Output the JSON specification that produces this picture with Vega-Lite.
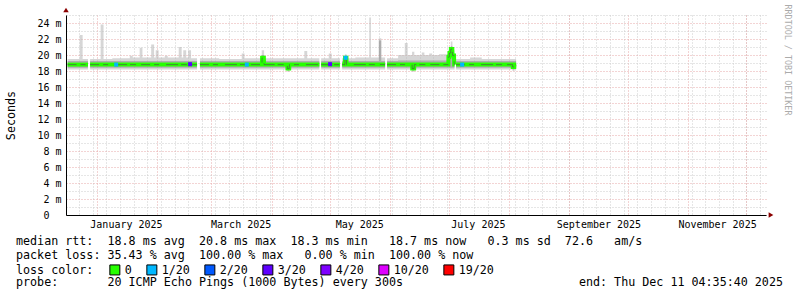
{
  "$schema": "https://vega.github.io/schema/vega-lite/v6.json",
  "width": 700,
  "height": 200,
  "autosize": {"type": "none"},
  "padding": {"left": 66, "top": 15, "right": 31, "bottom": 82},
  "background": "white",
  "config": {
    "font": "DejaVu Sans Mono",
    "view": {"stroke": null},
    "axis": {"labelFont": "DejaVu Sans Mono", "titleFont": "DejaVu Sans Mono"}
  },
  "title": {
    "text": [
      "median rtt:\u00a0\u00a018.8 ms avg\u00a0\u00a020.8 ms max\u00a0\u00a018.3 ms min\u00a0\u00a0\u00a018.7 ms now\u00a0\u00a0\u00a00.3 ms sd\u00a0\u00a072.6\u00a0\u00a0\u00a0am/s",
      "packet loss: 35.43 % avg\u00a0\u00a0100.00 % max\u00a0\u00a0\u00a00.00 % min\u00a0\u00a0100.00 % now",
      "\u200b",
      "probe:\u00a0\u00a0\u00a0\u00a0\u00a0\u00a0\u00a020 ICMP Echo Pings (1000 Bytes) every 300s\u00a0\u00a0\u00a0\u00a0\u00a0\u00a0\u00a0\u00a0\u00a0\u00a0\u00a0\u00a0\u00a0\u00a0\u00a0\u00a0\u00a0\u00a0\u00a0\u00a0\u00a0\u00a0\u00a0\u00a0\u00a0end: Thu Dec 11 04:35:40 2025"
    ],
    "orient": "bottom",
    "anchor": "start",
    "frame": "group",
    "dx": -50,
    "offset": -41,
    "font": "DejaVu Sans Mono",
    "fontSize": 11.7,
    "fontWeight": "normal",
    "color": "black",
    "lineHeight": 13.8,
    "baseline": "top"
  },
  "datasets": {
    "smoke": [
      {"t": "2024-12-17T00:00", "s": 1, "lo": 18.2, "ilo": 18.4, "ihi": 19.25, "hi": 19.5},
      {"t": "2024-12-23T06:00", "s": 1, "lo": 18.2, "ilo": 18.4, "ihi": 19.25, "hi": 22.5},
      {"t": "2024-12-24T18:00", "s": 1, "lo": 18.2, "ilo": 18.4, "ihi": 19.25, "hi": 19.5},
      {"t": "2024-12-27T12:00", "s": 1, "lo": 18.2, "ilo": 18.4, "ihi": 19.25, "hi": 19.5},
      {"t": "2024-12-28T14:00", "s": 2, "lo": 18.2, "ilo": 18.4, "ihi": 19.25, "hi": 19.5},
      {"t": "2025-01-03T00:00", "s": 2, "lo": 18.2, "ilo": 18.4, "ihi": 19.25, "hi": 23.8},
      {"t": "2025-01-04T12:00", "s": 2, "lo": 18.2, "ilo": 18.4, "ihi": 19.25, "hi": 19.5},
      {"t": "2025-01-09T00:00", "s": 2, "lo": 18.2, "ilo": 18.4, "ihi": 19.25, "hi": 19.6},
      {"t": "2025-01-18T00:00", "s": 2, "lo": 18.2, "ilo": 18.4, "ihi": 19.25, "hi": 19.9},
      {"t": "2025-01-19T12:00", "s": 2, "lo": 18.2, "ilo": 18.4, "ihi": 19.25, "hi": 19.7},
      {"t": "2025-01-23T02:00", "s": 2, "lo": 18.2, "ilo": 18.4, "ihi": 19.25, "hi": 20.9},
      {"t": "2025-01-24T12:00", "s": 2, "lo": 18.2, "ilo": 18.4, "ihi": 19.25, "hi": 19.7},
      {"t": "2025-01-29T00:00", "s": 2, "lo": 18.2, "ilo": 18.4, "ihi": 19.25, "hi": 21.3},
      {"t": "2025-01-30T12:00", "s": 2, "lo": 18.2, "ilo": 18.4, "ihi": 19.25, "hi": 19.7},
      {"t": "2025-01-31T08:00", "s": 2, "lo": 18.2, "ilo": 18.4, "ihi": 19.25, "hi": 20.6},
      {"t": "2025-02-01T20:00", "s": 2, "lo": 18.2, "ilo": 18.4, "ihi": 19.25, "hi": 19.7},
      {"t": "2025-02-05T00:00", "s": 2, "lo": 18.2, "ilo": 18.4, "ihi": 19.25, "hi": 19.9},
      {"t": "2025-02-06T12:00", "s": 2, "lo": 18.2, "ilo": 18.4, "ihi": 19.25, "hi": 19.7},
      {"t": "2025-02-12T04:00", "s": 2, "lo": 18.2, "ilo": 18.4, "ihi": 19.25, "hi": 21.0},
      {"t": "2025-02-13T16:00", "s": 2, "lo": 18.2, "ilo": 18.4, "ihi": 19.25, "hi": 19.7},
      {"t": "2025-02-14T12:00", "s": 2, "lo": 18.2, "ilo": 18.4, "ihi": 19.25, "hi": 20.6},
      {"t": "2025-02-16T00:00", "s": 2, "lo": 18.2, "ilo": 18.4, "ihi": 19.25, "hi": 19.7},
      {"t": "2025-02-17T00:00", "s": 2, "lo": 18.2, "ilo": 18.4, "ihi": 19.25, "hi": 20.6},
      {"t": "2025-02-18T12:00", "s": 2, "lo": 18.2, "ilo": 18.4, "ihi": 19.25, "hi": 19.6},
      {"t": "2025-02-21T14:00", "s": 2, "lo": 18.2, "ilo": 18.4, "ihi": 19.25, "hi": 19.6},
      {"t": "2025-02-23T02:00", "s": 3, "lo": 18.2, "ilo": 18.4, "ihi": 19.25, "hi": 19.6},
      {"t": "2025-03-05T00:00", "s": 3, "lo": 18.2, "ilo": 18.4, "ihi": 19.25, "hi": 19.5},
      {"t": "2025-03-16T14:00", "s": 3, "lo": 18.2, "ilo": 18.4, "ihi": 19.25, "hi": 20.2},
      {"t": "2025-03-18T00:00", "s": 3, "lo": 18.2, "ilo": 18.4, "ihi": 19.25, "hi": 19.6},
      {"t": "2025-03-26T20:00", "s": 3, "lo": 18.2, "ilo": 18.4, "ihi": 20.0, "hi": 20.6},
      {"t": "2025-03-28T02:00", "s": 3, "lo": 18.2, "ilo": 18.4, "ihi": 19.25, "hi": 19.6},
      {"t": "2025-04-09T00:00", "s": 3, "lo": 17.9, "ilo": 18.1, "ihi": 19.25, "hi": 19.6},
      {"t": "2025-04-10T02:00", "s": 3, "lo": 18.2, "ilo": 18.4, "ihi": 19.25, "hi": 19.6},
      {"t": "2025-04-17T18:00", "s": 3, "lo": 18.2, "ilo": 18.4, "ihi": 19.25, "hi": 20.5},
      {"t": "2025-04-19T06:00", "s": 3, "lo": 18.2, "ilo": 18.4, "ihi": 19.25, "hi": 19.6},
      {"t": "2025-04-25T12:00", "s": 3, "lo": 18.2, "ilo": 18.4, "ihi": 19.25, "hi": 19.6},
      {"t": "2025-04-26T10:00", "s": 4, "lo": 18.2, "ilo": 18.4, "ihi": 19.25, "hi": 19.6},
      {"t": "2025-04-30T08:00", "s": 4, "lo": 18.2, "ilo": 18.4, "ihi": 19.25, "hi": 20.2},
      {"t": "2025-05-01T20:00", "s": 4, "lo": 18.2, "ilo": 18.4, "ihi": 19.25, "hi": 19.6},
      {"t": "2025-05-06T02:00", "s": 4, "lo": 18.2, "ilo": 18.4, "ihi": 19.25, "hi": 19.6},
      {"t": "2025-05-07T05:00", "s": 5, "lo": 18.2, "ilo": 18.4, "ihi": 19.25, "hi": 19.6},
      {"t": "2025-05-08T15:00", "s": 5, "lo": 18.2, "ilo": 18.4, "ihi": 19.9, "hi": 20.1},
      {"t": "2025-05-09T12:00", "s": 5, "lo": 18.2, "ilo": 18.4, "ihi": 19.25, "hi": 19.6},
      {"t": "2025-05-14T00:00", "s": 5, "lo": 18.2, "ilo": 18.4, "ihi": 19.25, "hi": 19.7},
      {"t": "2025-05-21T04:00", "s": 5, "lo": 18.2, "ilo": 18.4, "ihi": 19.25, "hi": 24.7},
      {"t": "2025-05-22T00:00", "s": 5, "lo": 18.2, "ilo": 18.4, "ihi": 19.25, "hi": 19.7},
      {"t": "2025-05-26T02:00", "s": 5, "lo": 18.2, "ilo": 18.4, "ihi": 21.8, "hi": 22.1},
      {"t": "2025-05-27T08:00", "s": 5, "lo": 18.2, "ilo": 18.4, "ihi": 19.25, "hi": 19.7},
      {"t": "2025-05-29T07:00", "s": 5, "lo": 18.2, "ilo": 18.4, "ihi": 19.25, "hi": 19.7},
      {"t": "2025-05-30T07:00", "s": 6, "lo": 18.2, "ilo": 18.4, "ihi": 19.25, "hi": 19.6},
      {"t": "2025-06-05T00:00", "s": 6, "lo": 18.2, "ilo": 18.4, "ihi": 19.3, "hi": 20.0},
      {"t": "2025-06-08T10:00", "s": 6, "lo": 18.2, "ilo": 18.4, "ihi": 19.3, "hi": 21.5},
      {"t": "2025-06-09T22:00", "s": 6, "lo": 18.2, "ilo": 18.4, "ihi": 19.3, "hi": 20.0},
      {"t": "2025-06-12T04:00", "s": 6, "lo": 17.9, "ilo": 18.1, "ihi": 19.3, "hi": 20.4},
      {"t": "2025-06-13T08:00", "s": 6, "lo": 18.2, "ilo": 18.4, "ihi": 19.3, "hi": 20.0},
      {"t": "2025-06-17T04:00", "s": 6, "lo": 18.2, "ilo": 18.4, "ihi": 19.3, "hi": 20.3},
      {"t": "2025-06-18T12:00", "s": 6, "lo": 18.2, "ilo": 18.4, "ihi": 19.3, "hi": 20.0},
      {"t": "2025-06-21T00:00", "s": 6, "lo": 18.2, "ilo": 18.4, "ihi": 19.3, "hi": 20.2},
      {"t": "2025-06-22T12:00", "s": 6, "lo": 18.2, "ilo": 18.4, "ihi": 19.3, "hi": 20.0},
      {"t": "2025-06-26T00:00", "s": 6, "lo": 18.2, "ilo": 18.4, "ihi": 19.3, "hi": 20.1},
      {"t": "2025-06-30T20:00", "s": 6, "lo": 18.2, "ilo": 18.4, "ihi": 20.1, "hi": 20.6},
      {"t": "2025-07-01T10:00", "s": 6, "lo": 18.2, "ilo": 18.4, "ihi": 20.6, "hi": 21.0},
      {"t": "2025-07-02T02:00", "s": 6, "lo": 18.2, "ilo": 18.4, "ihi": 21.1, "hi": 21.7},
      {"t": "2025-07-02T22:00", "s": 6, "lo": 18.2, "ilo": 18.4, "ihi": 20.3, "hi": 20.6},
      {"t": "2025-07-03T20:00", "s": 6, "lo": 18.2, "ilo": 18.4, "ihi": 19.25, "hi": 19.8},
      {"t": "2025-07-04T00:00", "s": 6, "lo": 18.2, "ilo": 18.4, "ihi": 19.25, "hi": 19.8},
      {"t": "2025-07-04T19:00", "s": 7, "lo": 18.2, "ilo": 18.4, "ihi": 19.25, "hi": 19.5},
      {"t": "2025-07-12T00:00", "s": 7, "lo": 18.2, "ilo": 18.4, "ihi": 19.25, "hi": 19.7},
      {"t": "2025-07-18T00:00", "s": 7, "lo": 18.2, "ilo": 18.4, "ihi": 19.25, "hi": 19.5},
      {"t": "2025-08-02T20:00", "s": 7, "lo": 18.0, "ilo": 18.2, "ihi": 19.25, "hi": 19.5},
      {"t": "2025-08-03T20:00", "s": 7, "lo": 18.2, "ilo": 18.4, "ihi": 19.25, "hi": 19.5},
      {"t": "2025-08-04T16:00", "s": 7, "lo": 18.2, "ilo": 18.4, "ihi": 19.25, "hi": 19.5}
    ],
    "median": [
      {"t": "2024-12-17T00:00", "s": 1, "med": 18.8},
      {"t": "2024-12-27T12:00", "s": 1, "med": 18.8},
      {"t": "2024-12-28T14:00", "s": 2, "med": 18.8},
      {"t": "2025-02-21T14:00", "s": 2, "med": 18.8},
      {"t": "2025-02-23T02:00", "s": 3, "med": 18.8},
      {"t": "2025-03-26T23:00", "s": 3, "med": 18.8},
      {"t": "2025-03-27T01:00", "s": 3, "med": 19.65},
      {"t": "2025-03-27T23:00", "s": 3, "med": 19.65},
      {"t": "2025-03-28T01:00", "s": 3, "med": 18.8},
      {"t": "2025-04-09T00:00", "s": 3, "med": 18.8},
      {"t": "2025-04-09T02:00", "s": 3, "med": 18.3},
      {"t": "2025-04-10T00:00", "s": 3, "med": 18.3},
      {"t": "2025-04-10T02:00", "s": 3, "med": 18.8},
      {"t": "2025-04-25T12:00", "s": 3, "med": 18.8},
      {"t": "2025-04-26T10:00", "s": 4, "med": 18.8},
      {"t": "2025-05-06T02:00", "s": 4, "med": 18.8},
      {"t": "2025-05-07T05:00", "s": 5, "med": 18.8},
      {"t": "2025-05-08T15:00", "s": 5, "med": 18.8},
      {"t": "2025-05-08T17:00", "s": 5, "med": 19.65},
      {"t": "2025-05-09T10:00", "s": 5, "med": 19.65},
      {"t": "2025-05-09T12:00", "s": 5, "med": 18.8},
      {"t": "2025-05-29T07:00", "s": 5, "med": 18.8},
      {"t": "2025-05-30T07:00", "s": 6, "med": 18.8},
      {"t": "2025-06-12T04:00", "s": 6, "med": 18.8},
      {"t": "2025-06-12T06:00", "s": 6, "med": 18.3},
      {"t": "2025-06-13T06:00", "s": 6, "med": 18.3},
      {"t": "2025-06-13T08:00", "s": 6, "med": 18.8},
      {"t": "2025-06-30T20:00", "s": 6, "med": 18.8},
      {"t": "2025-06-30T21:00", "s": 6, "med": 19.75},
      {"t": "2025-07-01T08:00", "s": 6, "med": 19.75},
      {"t": "2025-07-01T10:00", "s": 6, "med": 20.25},
      {"t": "2025-07-02T01:00", "s": 6, "med": 20.25},
      {"t": "2025-07-02T03:00", "s": 6, "med": 20.75},
      {"t": "2025-07-02T21:00", "s": 6, "med": 20.75},
      {"t": "2025-07-02T23:00", "s": 6, "med": 19.95},
      {"t": "2025-07-03T18:00", "s": 6, "med": 19.95},
      {"t": "2025-07-03T20:00", "s": 6, "med": 18.8},
      {"t": "2025-07-04T00:00", "s": 6, "med": 18.8},
      {"t": "2025-07-04T19:00", "s": 7, "med": 18.8},
      {"t": "2025-08-02T20:00", "s": 7, "med": 18.8},
      {"t": "2025-08-02T22:00", "s": 7, "med": 18.5},
      {"t": "2025-08-03T18:00", "s": 7, "med": 18.5},
      {"t": "2025-08-03T20:00", "s": 7, "med": 18.8},
      {"t": "2025-08-04T16:00", "s": 7, "med": 18.8}
    ],
    "loss": [
      {"t": "2025-01-11T00:00", "med": 18.8, "loss": "1/20"},
      {"t": "2025-03-19T04:00", "med": 18.8, "loss": "1/20"},
      {"t": "2025-05-09T00:00", "med": 19.65, "loss": "1/20"},
      {"t": "2025-07-07T22:00", "med": 18.8, "loss": "1/20"},
      {"t": "2025-02-18T00:00", "med": 18.85, "loss": "3/20"},
      {"t": "2025-05-01T00:00", "med": 18.85, "loss": "3/20"}
    ]
  },
  "layer": [
    {
      "data": {"name": "smoke"},
      "mark": {"type": "area", "interpolate": "step-after", "color": "#bbbbbb", "opacity": 0.6},
      "encoding": {
        "x": {
          "field": "t", "type": "temporal",
          "scale": {"domain": [
            {"year": 2024, "month": 12, "date": 16, "hours": 4, "minutes": 35, "seconds": 40},
            {"year": 2025, "month": 12, "date": 11, "hours": 4, "minutes": 35, "seconds": 40}
          ]},
          "axis": {
            "orient": "bottom", "grid": true, "gridColor": "#cccccc", "gridDash": [1, 2], "gridOpacity": 1,
            "labels": false, "ticks": false, "domain": false, "title": null,
            "values": [
              {"year": 2024, "month": 12, "date": 23}, {"year": 2024, "month": 12, "date": 30},
              {"year": 2025, "month": 1, "date": 6}, {"year": 2025, "month": 1, "date": 13}, {"year": 2025, "month": 1, "date": 20}, {"year": 2025, "month": 1, "date": 27},
              {"year": 2025, "month": 2, "date": 3}, {"year": 2025, "month": 2, "date": 10}, {"year": 2025, "month": 2, "date": 17}, {"year": 2025, "month": 2, "date": 24},
              {"year": 2025, "month": 3, "date": 3}, {"year": 2025, "month": 3, "date": 10}, {"year": 2025, "month": 3, "date": 17}, {"year": 2025, "month": 3, "date": 24}, {"year": 2025, "month": 3, "date": 31},
              {"year": 2025, "month": 4, "date": 7}, {"year": 2025, "month": 4, "date": 14}, {"year": 2025, "month": 4, "date": 21}, {"year": 2025, "month": 4, "date": 28},
              {"year": 2025, "month": 5, "date": 5}, {"year": 2025, "month": 5, "date": 12}, {"year": 2025, "month": 5, "date": 19}, {"year": 2025, "month": 5, "date": 26},
              {"year": 2025, "month": 6, "date": 2}, {"year": 2025, "month": 6, "date": 9}, {"year": 2025, "month": 6, "date": 16}, {"year": 2025, "month": 6, "date": 23}, {"year": 2025, "month": 6, "date": 30},
              {"year": 2025, "month": 7, "date": 7}, {"year": 2025, "month": 7, "date": 14}, {"year": 2025, "month": 7, "date": 21}, {"year": 2025, "month": 7, "date": 28},
              {"year": 2025, "month": 8, "date": 4}, {"year": 2025, "month": 8, "date": 11}, {"year": 2025, "month": 8, "date": 18}, {"year": 2025, "month": 8, "date": 25},
              {"year": 2025, "month": 9, "date": 1}, {"year": 2025, "month": 9, "date": 8}, {"year": 2025, "month": 9, "date": 15}, {"year": 2025, "month": 9, "date": 22}, {"year": 2025, "month": 9, "date": 29},
              {"year": 2025, "month": 10, "date": 6}, {"year": 2025, "month": 10, "date": 13}, {"year": 2025, "month": 10, "date": 20}, {"year": 2025, "month": 10, "date": 27},
              {"year": 2025, "month": 11, "date": 3}, {"year": 2025, "month": 11, "date": 10}, {"year": 2025, "month": 11, "date": 17}, {"year": 2025, "month": 11, "date": 24},
              {"year": 2025, "month": 12, "date": 1}, {"year": 2025, "month": 12, "date": 8}
            ]
          }
        },
        "y": {
          "field": "lo", "type": "quantitative",
          "scale": {"domain": [0, 25], "nice": false, "zero": true},
          "axis": {
            "orient": "left", "grid": true, "gridColor": "#cccccc", "gridDash": [1, 2], "gridOpacity": 1,
            "labels": false, "ticks": false, "domain": false, "title": null,
            "values": [1, 3, 5, 7, 9, 11, 13, 15, 17, 19, 21, 23, 25]
          }
        },
        "y2": {"field": "hi"},
        "detail": {"field": "s", "type": "nominal"}
      }
    },
    {
      "data": {"name": "smoke"},
      "mark": {"type": "area", "interpolate": "step-after", "color": "#8c8c8c", "opacity": 0.55},
      "encoding": {
        "x": {
          "field": "t", "type": "temporal",
          "axis": {
            "orient": "bottom", "grid": true, "gridColor": "#e6a8a8", "gridDash": [1, 2], "gridOpacity": 1,
            "values": [
              {"year": 2025, "month": 1, "date": 1}, {"year": 2025, "month": 2, "date": 1}, {"year": 2025, "month": 3, "date": 1},
              {"year": 2025, "month": 4, "date": 1}, {"year": 2025, "month": 5, "date": 1}, {"year": 2025, "month": 6, "date": 1},
              {"year": 2025, "month": 7, "date": 1}, {"year": 2025, "month": 8, "date": 1}, {"year": 2025, "month": 9, "date": 1},
              {"year": 2025, "month": 10, "date": 1}, {"year": 2025, "month": 11, "date": 1}, {"year": 2025, "month": 12, "date": 1}
            ],
            "labelExpr": "month(datum.value) % 2 == 0 ? timeFormat(datum.value, '%B %Y') : ''",
            "labelOffset": 29.2, "labelPadding": 4, "labelFontSize": 10, "labelColor": "black",
            "labelOverlap": false, "labelFlush": false, "labelBound": false,
            "ticks": false, "domain": true, "domainColor": "black", "domainWidth": 1, "title": null
          }
        },
        "y": {
          "field": "ilo", "type": "quantitative",
          "axis": {
            "orient": "left", "grid": true, "gridColor": "#e6a8a8", "gridDash": [1, 2], "gridOpacity": 1,
            "values": [0, 2, 4, 6, 8, 10, 12, 14, 16, 18, 20, 22, 24],
            "labelExpr": "datum.value == 0 ? '0\u00a0\u00a0\u200b' : datum.value + ' m'",
            "labelFontSize": 10, "labelColor": "black", "labelPadding": 5,
            "ticks": false, "domain": true, "domainColor": "black", "domainWidth": 1,
            "title": "Seconds", "titleFontSize": 11.7, "titleFontWeight": "normal", "titleColor": "black",
            "titleAngle": -90, "titleX": -56, "titleY": 100, "titleAlign": "center", "titleBaseline": "middle"
          }
        },
        "y2": {"field": "ihi"},
        "detail": {"field": "s", "type": "nominal"}
      }
    },
    {
      "data": {"name": "median"},
      "mark": {"type": "line", "color": "#26ff00", "strokeWidth": 4, "strokeCap": "butt"},
      "encoding": {
        "x": {"field": "t", "type": "temporal", "axis": null},
        "y": {
          "field": "med", "type": "quantitative",
          "axis": {
            "orient": "right", "labels": false, "ticks": false, "domain": false, "grid": false,
            "title": "RRDTOOL / TOBI OETIKER", "titleFontSize": 8.4, "titleFontWeight": "normal", "titleColor": "#ababab",
            "titleAngle": 90, "titleX": 21, "titleY": 44.5, "titleAlign": "center", "titleBaseline": "middle"
          }
        },
        "detail": {"field": "s", "type": "nominal"}
      }
    },
    {
      "data": {"name": "median"},
      "mark": {"type": "line", "color": "#505050", "strokeWidth": 1, "opacity": 0.65, "strokeDash": [9, 4, 5, 7, 12, 3, 6, 5]},
      "encoding": {
        "x": {"field": "t", "type": "temporal", "axis": null},
        "y": {"field": "med", "type": "quantitative", "axis": null},
        "detail": {"field": "s", "type": "nominal"}
      }
    },
    {
      "data": {"name": "loss"},
      "mark": {"type": "point", "shape": "square", "filled": true, "size": 16, "opacity": 1},
      "encoding": {
        "x": {"field": "t", "type": "temporal", "axis": null},
        "y": {"field": "med", "type": "quantitative", "axis": null},
        "color": {
          "field": "loss", "type": "nominal",
          "scale": {
            "domain": ["0", "1/20", "2/20", "3/20", "4/20", "10/20", "19/20"],
            "range": ["#26ff00", "#00b8ff", "#0059ff", "#5e00ff", "#7e00ff", "#dd00ff", "#ff0000"]
          },
          "legend": {
            "orient": "none", "legendX": -50, "legendY": 249, "direction": "horizontal",
            "title": "loss color:", "titleOrient": "left", "titleFont": "DejaVu Sans Mono", "titleFontSize": 11.7,
            "titleFontWeight": "normal", "titleColor": "black", "titlePadding": 15, "titleBaseline": "middle",
            "labelFont": "DejaVu Sans Mono", "labelFontSize": 11.7, "labelColor": "black", "labelOffset": 4,
            "symbolType": "square", "symbolSize": 100, "symbolStrokeColor": "black", "symbolStrokeWidth": 1,
            "symbolOpacity": 1, "columnPadding": 12, "gridAlign": "each", "padding": 0,
            "encode": {"symbols": {"update": {"stroke": {"value": "black"}, "strokeWidth": {"value": 1}}}}
          }
        }
      }
    },
    {
      "data": {"values": [{}]},
      "mark": {"type": "point", "shape": "triangle-right", "filled": true, "color": "#8b0000", "size": 30, "opacity": 1, "xOffset": 5},
      "encoding": {
        "x": {"datum": {"year": 2025, "month": 12, "date": 11, "hours": 4, "minutes": 35, "seconds": 40}, "type": "temporal", "axis": null},
        "y": {"datum": 0, "type": "quantitative", "axis": null}
      }
    },
    {
      "data": {"values": [{}]},
      "mark": {"type": "point", "shape": "triangle-up", "filled": true, "color": "#8b0000", "size": 30, "opacity": 1, "yOffset": -5},
      "encoding": {
        "x": {"datum": {"year": 2024, "month": 12, "date": 16, "hours": 4, "minutes": 35, "seconds": 40}, "type": "temporal", "axis": null},
        "y": {"datum": 25, "type": "quantitative", "axis": null}
      }
    }
  ],
  "resolve": {"axis": {"x": "independent", "y": "independent"}}
}
